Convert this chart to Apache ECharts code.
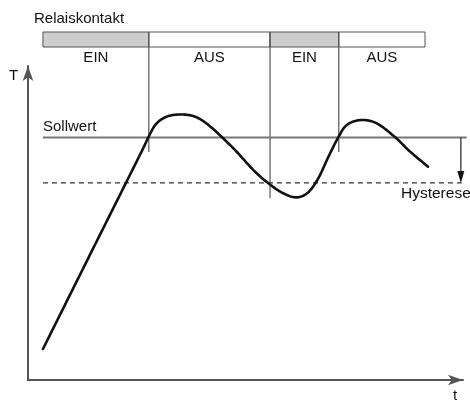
<!DOCTYPE html>
<html>
<head>
<meta charset="utf-8">
<script src="https://cdn.jsdelivr.net/npm/echarts@6/dist/echarts.min.js"></script>
<style>
  html, body { margin: 0; padding: 0; background: #fff; }
  #chart { width: 470px; height: 401px; }
</style>
</head>
<body>
<div id="chart"></div>
<script>
// Zweipunktregler: Temperaturverlauf mit Hysterese
const curveTime = [3.5, 15.2, 26.2, 28.2, 30.0, 32.5, 35.6, 39.1, 42.6, 48.1, 52.8, 56.3, 59.7, 62.9, 65.6, 68.0, 70.3, 72.7, 74.7, 78.0, 81.7, 86.0, 89.5, 93.7]
const curveTemp = [10.1, 42.7, 73.3, 79.1, 83.4, 85.8, 86.5, 85.8, 82.7, 75.5, 68.4, 64.1, 60.9, 59.5, 61.1, 65.7, 72.5, 79.1, 83.1, 84.7, 83.6, 79.1, 74.4, 69.5]

const sollwert = 79.0
const hystLow = 64.2
const lineStart = 3.5
const sollEnd = 102.8
const hystEnd = 101.6
const hystArrowAt = 101.4

// Relaiskontakt
const relayStart = [3.5, 28.3, 56.7, 72.8]
const relayEnd = [28.3, 56.7, 72.8, 93.0]
const relayState = ['EIN', 'AUS', 'EIN', 'AUS']
const switchLineEnd = [null, 74.3, 59.3, 74.3]

const FONT = 'Liberation Sans, Arial, sans-serif'
const BAR_TOP = 32
const BAR_H = 15

const chart = echarts.init(document.getElementById('chart'))

const axisCommon = {
    type: 'value',
    min: 0,
    axisLine: {
        show: true,
        symbol: ['none', 'arrow'],
        symbolSize: [8, 15],
        lineStyle: { color: '#555', width: 2 },
    },
    axisTick: { show: false },
    axisLabel: { show: false },
    splitLine: { show: false },
}

function renderRelay(params, api) {
    const i = params.dataIndex
    const x0 = api.coord([api.value(0), 0])[0]
    const x1 = api.coord([api.value(1), 0])[0]
    const children = [
        {
            type: 'rect',
            shape: { x: x0, y: BAR_TOP, width: x1 - x0, height: BAR_H },
            style: { fill: relayState[i] === 'EIN' ? '#cdcdcd' : '#fff', stroke: '#555', lineWidth: 1 },
        },
        {
            type: 'text',
            style: {
                text: relayState[i],
                x: (x0 + x1) / 2,
                y: 58,
                align: 'center',
                verticalAlign: 'middle',
                font: '15px ' + FONT,
                fill: '#111',
            },
        },
    ]
    if (switchLineEnd[i] !== null) {
        const yEnd = api.coord([api.value(0), switchLineEnd[i]])[1]
        children.push({
            type: 'line',
            shape: { x1: x0, y1: BAR_TOP, x2: x0, y2: yEnd },
            style: { stroke: '#555', lineWidth: 1.2 },
        })
    }
    return { type: 'group', children }
}

// Sollwert, Hysteresegrenze und Pfeil
function renderRefLines(params, api) {
    const s0 = api.coord([lineStart, sollwert])
    const s1 = api.coord([sollEnd, sollwert])
    const h0 = api.coord([lineStart, hystLow])
    const h1 = api.coord([hystEnd, hystLow])
    const a0 = api.coord([hystArrowAt, sollwert])
    const a1 = api.coord([hystArrowAt, hystLow])
    return {
        type: 'group',
        children: [
            { type: 'line', shape: { x1: s0[0], y1: s0[1], x2: s1[0], y2: s1[1] }, style: { stroke: '#777', lineWidth: 2 } },
            { type: 'line', shape: { x1: h0[0], y1: h0[1], x2: h1[0], y2: h1[1] }, style: { stroke: '#333', lineWidth: 1.2, lineDash: [5, 4] } },
            { type: 'line', shape: { x1: a0[0], y1: a0[1], x2: a1[0], y2: a1[1] - 8 }, style: { stroke: '#222', lineWidth: 1.2 } },
            {
                type: 'polygon',
                shape: { points: [[a1[0] - 3.5, a1[1] - 12], [a1[0] + 3.5, a1[1] - 12], [a1[0], a1[1]]] },
                style: { fill: '#111' },
            },
        ],
    }
}

function renderCurve(params, api) {
    if (params.dataIndex !== 0) return null
    const n = curveTime.length
    const pt = (k) => {
        const j = Math.max(0, Math.min(n - 1, k))
        return api.coord([curveTime[j], curveTemp[j]])
    }
    const points = [pt(0)]
    for (let i = 0; i < n - 1; i++) {
        const p0 = pt(i - 1), p1 = pt(i), p2 = pt(i + 1), p3 = pt(i + 2)
        const c1 = [p1[0] + (p2[0] - p0[0]) / 6, p1[1] + (p2[1] - p0[1]) / 6]
        const c2 = [p2[0] - (p3[0] - p1[0]) / 6, p2[1] - (p3[1] - p1[1]) / 6]
        for (let s = 1; s <= 16; s++) {
            const u = s / 16, v = 1 - u
            points.push([
                v * v * v * p1[0] + 3 * v * v * u * c1[0] + 3 * v * u * u * c2[0] + u * u * u * p2[0],
                v * v * v * p1[1] + 3 * v * v * u * c1[1] + 3 * v * u * u * c2[1] + u * u * u * p2[1],
            ])
        }
    }
    return {
        type: 'polyline',
        shape: { points },
        style: { stroke: '#111', lineWidth: 2.6, fill: null, lineJoin: 'round', lineCap: 'round' },
    }
}

const text = (str, x, y, size) => ({
    type: 'text',
    left: x,
    top: y,
    style: { text: str, font: size + 'px ' + FONT, fill: '#111' },
})

const option = {
    animation: false,
    backgroundColor: '#fff',
    grid: { left: 28, right: 7, top: 66, bottom: 21 },
    xAxis: Object.assign({}, axisCommon, { max: 101.9 }),
    yAxis: Object.assign({}, axisCommon, { max: 102.3 }),
    graphic: [
        text('Relaiskontakt', 34, 11, 15),
        text('Sollwert', 43, 119, 15),
        text('Hysterese', 401, 186, 15.5),
        text('T', 9, 68, 15),
        text('t', 453, 388, 15),
    ],
    series: [
        {
            type: 'custom',
            clip: false,
            silent: true,
            encode: { x: [0, 1], y: 2 },
            data: relayStart.map((s, i) => [s, relayEnd[i], 0]),
            renderItem: renderRelay,
        },
        {
            type: 'custom',
            clip: false,
            silent: true,
            encode: { x: 0, y: 1 },
            data: [[lineStart, sollwert]],
            renderItem: renderRefLines,
        },
        {
            type: 'custom',
            clip: false,
            silent: true,
            encode: { x: 0, y: 1 },
            data: curveTime.map((t, i) => [t, curveTemp[i]]),
            renderItem: renderCurve,
        },
    ],
}

chart.setOption(option)
window.addEventListener('resize', () => chart.resize())
</script>
</body>
</html>
